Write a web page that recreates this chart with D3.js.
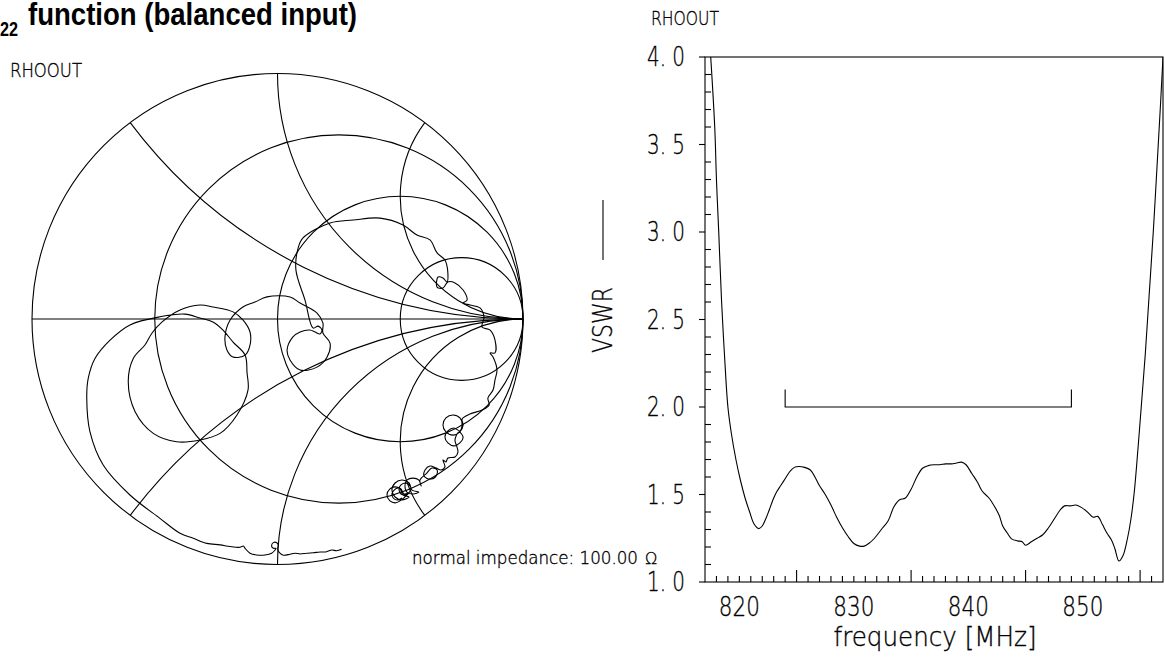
<!DOCTYPE html>
<html><head><meta charset="utf-8">
<script src="https://cdn.jsdelivr.net/npm/d3@7"></script>
<style>
body{margin:0;background:#fff}
svg{display:block}
.t{font-family:"DejaVu Sans ExtraLight","DejaVu Sans",sans-serif;font-weight:200;fill:#000;stroke:#000;stroke-width:0.35}
.ttl{font-family:"Liberation Sans",Arial,sans-serif;font-weight:bold;fill:#000}
</style></head>
<body><svg id="c" width="1165" height="657"></svg>
<script>
// ---------- VSWR data ----------
const freq = [817.4,817.5,817.85,818.0,818.2,818.45,818.7,819.0,819.3,819.7,820.1,820.5,820.9,821.3,821.7,822.0,822.3,822.6,823.0,823.3,823.6,824.0,824.4,824.8,825.2,825.7,826.2,826.6,827.0,827.5,828.0,828.5,829.0,829.5,830.0,830.5,830.9,831.3,831.8,832.4,833.0,833.5,834.0,834.5,835.0,835.5,836.0,836.5,837.0,837.5,838.0,838.5,839.0,839.4,839.8,840.3,840.8,841.2,841.8,842.3,842.7,843.0,843.4,843.8,844.3,844.7,845.0,845.5,846.0,846.5,847.0,847.5,848.0,848.4,848.9,849.4,849.9,850.4,850.9,851.3,851.7,852.1,852.5,852.8,853.15,853.5,853.9,854.2,854.5,854.8,855.1,855.45,855.8,856.15,856.5,856.8,857.0,857.1];
const vswr = [4.1,4.0,3.6,3.3,3.0,2.6,2.3,2.0,1.85,1.7,1.58,1.48,1.40,1.33,1.305,1.32,1.36,1.41,1.48,1.52,1.55,1.59,1.63,1.655,1.66,1.655,1.64,1.60,1.55,1.50,1.44,1.37,1.31,1.26,1.22,1.205,1.205,1.22,1.25,1.30,1.35,1.43,1.47,1.48,1.53,1.60,1.65,1.665,1.67,1.67,1.675,1.675,1.68,1.685,1.67,1.62,1.57,1.52,1.48,1.43,1.38,1.32,1.28,1.245,1.235,1.23,1.21,1.23,1.25,1.27,1.31,1.36,1.41,1.435,1.435,1.44,1.425,1.40,1.37,1.375,1.33,1.28,1.24,1.19,1.12,1.15,1.25,1.36,1.52,1.75,2.0,2.3,2.65,3.0,3.4,3.75,4.0,4.15];
const freqTicks = [820,830,840,850];
const vswrTicks = [1.0,1.5,2.0,2.5,3.0,3.5,4.0];
const bandEdges = [824,849];
const bandLevel = [2.0,2.1];

// ---------- Smith chart grid ----------
const resistanceCircles = [1/3,1,3];
const reactanceArcs = [0.5,1,2,-0.5,-1,-2];

// ---------- reflection coefficient trace (Re, Im) ----------
const rhoRe = [0.261,0.241,0.221,0.200,0.173,0.146,0.119,0.092,0.071,0.051,0.024,0.010,0.001,0.003,-0.003,-0.017,-0.024,-0.017,-0.006,-0.010,-0.024,-0.051,-0.085,-0.112,-0.132,-0.139,-0.153,-0.193,-0.234,-0.288,-0.343,-0.397,
-0.479,-0.601,-0.710,-0.764,-0.777,-0.771,-0.743,-0.682,-0.601,-0.479,-0.377,-0.316,-0.263,-0.222,-0.181,-0.132,-0.124,-0.120,
-0.165,-0.234,-0.316,-0.411,-0.506,-0.580,-0.608,-0.587,-0.540,-0.511,-0.470,-0.397,
-0.316,-0.263,-0.181,-0.141,-0.112,-0.112,-0.132,
-0.181,-0.206,-0.214,-0.193,-0.141,-0.092,-0.043,0.051,0.092,0.161,0.185,0.185,0.214,
0.202,0.161,0.092,0.051,0.039,0.063,0.092,0.132,0.153,0.173,0.181,0.165,0.145,
0.112,0.075,0.084,
0.104,0.214,0.308,0.418,0.511,0.568,0.621,0.650,0.682,0.694,0.690,0.674,0.654,0.650,0.674,0.694,0.723,0.756,0.772,0.756,0.784,0.825,0.841,0.833,0.866,0.886,0.886,0.866,0.878,0.894,0.886,0.878,0.857,0.862,0.833,0.784,0.752,
0.756,0.743,0.715,0.686,0.674,0.686,0.715,0.743,0.752,0.743,0.719,0.694,0.682,0.694,0.719,0.743,0.756,0.739,0.723,0.731,0.735,
0.723,0.694,0.686,0.674,0.682,0.666,0.646,
0.621,0.601,0.597,0.621,0.646,0.650,0.629,0.605,0.580,
0.585,0.576,0.552,0.527,0.519,0.527,0.552,0.576,
0.548,0.536,0.507,0.479,0.466,0.479,0.507,0.536,
0.511,0.499,0.479,0.458,0.446,0.458,0.479,0.499,
0.544,0.532,0.519,0.503,0.495,0.503,0.519,0.536,
0.515,0.503,0.491,0.475,0.466,0.475,0.491,0.507];
const rhoIm = [-0.938,-0.944,-0.941,-0.948,-0.949,-0.952,-0.954,-0.957,-0.954,-0.958,-0.962,-0.954,-0.938,-0.920,-0.911,-0.911,-0.925,-0.934,-0.934,-0.941,-0.954,-0.961,-0.961,-0.954,-0.934,-0.925,-0.930,-0.927,-0.920,-0.914,-0.893,-0.873,
-0.812,-0.717,-0.595,-0.459,-0.323,-0.242,-0.160,-0.086,-0.024,0.009,0.020,0.004,-0.012,-0.045,-0.094,-0.147,-0.220,-0.289,
-0.391,-0.466,-0.493,-0.500,-0.466,-0.378,-0.255,-0.160,-0.106,-0.057,-0.012,0.037,
0.057,0.049,0.029,-0.004,-0.053,-0.106,-0.147,
-0.155,-0.126,-0.073,-0.004,0.049,0.069,0.090,0.090,0.065,0.024,-0.016,-0.057,-0.098,
-0.155,-0.196,-0.208,-0.167,-0.126,-0.073,-0.053,-0.045,-0.053,-0.061,-0.045,-0.029,-0.037,
0.077,0.200,0.289,
0.330,0.391,0.403,0.411,0.383,0.342,0.322,0.269,0.240,0.187,0.151,0.167,0.171,0.130,0.126,0.151,0.147,0.118,0.077,0.065,0.057,0.045,0.008,-0.033,-0.045,-0.086,-0.138,-0.138,-0.155,-0.208,-0.248,-0.289,-0.322,-0.350,-0.371,-0.387,-0.407,
-0.432,-0.460,-0.473,-0.460,-0.432,-0.403,-0.391,-0.403,-0.428,-0.456,-0.444,-0.456,-0.481,-0.505,-0.517,-0.505,-0.481,-0.460,-0.493,-0.521,-0.542,
-0.562,-0.566,-0.582,-0.574,-0.603,-0.615,-0.607,
-0.599,-0.615,-0.640,-0.652,-0.640,-0.615,-0.607,-0.631,-0.656,
-0.680,-0.656,-0.648,-0.656,-0.680,-0.705,-0.713,-0.705,
-0.697,-0.668,-0.656,-0.668,-0.697,-0.725,-0.737,-0.725,
-0.717,-0.692,-0.684,-0.692,-0.717,-0.741,-0.749,-0.741,
-0.692,-0.672,-0.668,-0.676,-0.692,-0.713,-0.717,-0.709,
-0.713,-0.692,-0.688,-0.697,-0.713,-0.733,-0.737,-0.729];

const svg = d3.select("#c");
svg.append("rect").attr("width",1165).attr("height",657).attr("fill","#fff");
const SW = 1.1;

// ---------- Title ----------
const ttl = svg.append("text").attr("class","ttl");
ttl.append("tspan").attr("x",0).attr("y",36).attr("font-size",21)
  .attr("textLength",18).attr("lengthAdjust","spacingAndGlyphs").text("22");
ttl.append("tspan").attr("x",28).attr("y",25).attr("font-size",32)
  .attr("textLength",329).attr("lengthAdjust","spacingAndGlyphs").text("function (balanced input)");

function label(x,y,txt,size,len,anchor,rot){
  const t = svg.append("text").attr("class","t").attr("x",x).attr("y",y)
    .attr("font-size",size).attr("text-anchor",anchor||"start").text(txt);
  if(len) t.attr("textLength",len).attr("lengthAdjust","spacingAndGlyphs");
  if(rot) t.attr("transform",`rotate(${rot},${x},${y})`);
  return t;
}

// ---------- Smith chart ----------
const sx = d3.scaleLinear().domain([-1,1]).range([32,523]);
const sy = d3.scaleLinear().domain([-1,1]).range([564.5,73.5]);
const R = (sx(1)-sx(-1))/2;
const g1 = svg.append("g").attr("fill","none").attr("stroke","#000").attr("stroke-width",SW);
g1.append("circle").attr("cx",sx(0)).attr("cy",sy(0)).attr("r",R);
g1.append("line").attr("x1",sx(-1)).attr("x2",sx(1)).attr("y1",sy(0)).attr("y2",sy(0));
resistanceCircles.forEach(r=>{
  g1.append("circle").attr("cx",sx(r/(r+1))).attr("cy",sy(0)).attr("r",R/(r+1));
});
reactanceArcs.forEach(x=>{
  const pr=(x*x-1)/(x*x+1), pi=2*x/(x*x+1);
  const rad=R/Math.abs(x);
  g1.append("path").attr("d",`M${sx(pr)},${sy(pi)} A${rad},${rad} 0 0 ${x>0?0:1} ${sx(1)},${sy(0)}`);
});
const rhoPts = rhoRe.map((v,i)=>[v,rhoIm[i]]);
g1.append("path").attr("d", d3.line().x(d=>sx(d[0])).y(d=>sy(d[1])).curve(d3.curveCatmullRom.alpha(0.5))(rhoPts));

label(412,564,"normal impedance: 100.00",17,226);
label(645,564,"Ω",16);
label(10,77,"RHOOUT",20,72);

// ---------- VSWR plot ----------
const fx = d3.scaleLinear().domain([817,857]).range([705,1163]);
const vy = d3.scaleLinear().domain([1,4]).range([582,57]);
svg.append("defs").append("clipPath").attr("id","pc").append("rect")
  .attr("x",fx(817)).attr("y",vy(4)).attr("width",fx(857)-fx(817)).attr("height",vy(1)-vy(4));
const g2 = svg.append("g").attr("fill","none").attr("stroke","#000").attr("stroke-width",SW);
g2.append("rect").attr("x",fx(817)).attr("y",vy(4)).attr("width",fx(857)-fx(817)).attr("height",vy(1)-vy(4));
// y ticks
d3.range(10,41).forEach(k=>{
  const v=k/10, y=vy(v);
  if(k%5===0) g2.append("line").attr("x1",fx(817)-6).attr("x2",fx(817)).attr("y1",y).attr("y2",y);
  else g2.append("line").attr("x1",fx(817)).attr("x2",fx(817)+6).attr("y1",y).attr("y2",y);
});
// x ticks
d3.range(818,857).forEach(f=>{
  const x=fx(f);
  const len = (f%5===0 && f%10!==0) ? 12 : 6;
  g2.append("line").attr("x1",x).attr("x2",x).attr("y1",vy(1)).attr("y2",vy(1)-len);
});
vswrTicks.forEach(v=>label(685,vy(v)+9,v.toFixed(1).replace(".",". "),26,38,"end"));
freqTicks.forEach(f=>label(fx(f),616,String(f),26,41,"middle"));
label(935,646,"frequency [MHz]",26,203,"middle");
label(612,320,"VSWR",27,66,"middle",-90);
g2.append("line").attr("x1",603).attr("x2",603).attr("y1",200).attr("y2",260);
label(651,25,"RHOOUT",20,68);
// band bracket
g2.append("path").attr("d",`M${fx(bandEdges[0])},${vy(bandLevel[1])}V${vy(bandLevel[0])}H${fx(bandEdges[1])}V${vy(bandLevel[1])}`);
// curve
g2.append("path").attr("clip-path","url(#pc)")
  .attr("d", d3.line().x((d,i)=>fx(freq[i])).y(d=>vy(d)).curve(d3.curveCatmullRom.alpha(0.5))(vswr));
</script></body></html>
